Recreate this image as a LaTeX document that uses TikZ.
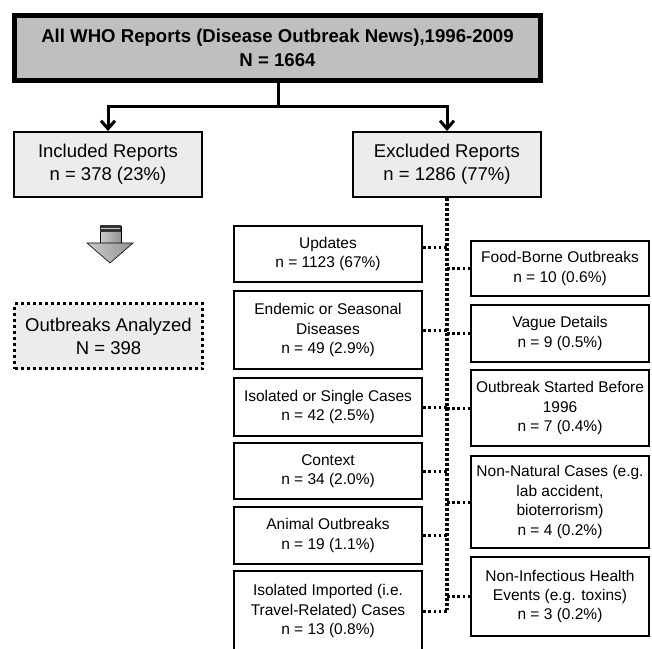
\documentclass[tikz,border=0pt]{standalone}
\usepackage{fontspec}
\setmainfont{Liberation Sans}
\usetikzlibrary{arrows.meta}
\definecolor{titlegray}{HTML}{BEBFC1}
\definecolor{boxgray}{HTML}{ECECEC}
\tikzset{
  topbox/.style={draw, line width=5pt, fill=titlegray, align=center, inner sep=0pt,
    minimum width=526, minimum height=65, font=\fontsize{18.6}{24}\selectfont\bfseries},
  mainbox/.style={draw, line width=2pt, fill=boxgray, align=center, inner sep=0pt,
    minimum width=188, minimum height=65, font=\fontsize{18.5}{23}\selectfont},
  resultbox/.style={mainbox, draw=none},
  leftbox/.style={draw, line width=2.2pt, fill=white, align=center, inner sep=0pt,
    minimum width=188, font=\fontsize{15.5}{19.4}\selectfont},
  rightbox/.style={leftbox, minimum width=178},
  tree/.style={line width=3pt},
  trunk/.style={line width=3.2pt, dash pattern=on 2.7pt off 2.3pt},
  twig/.style={line width=3pt, dash pattern=on 2.6pt off 2.6pt}
}
\begin{document}
\begin{tikzpicture}[x=1pt, y=-1pt]
  \useasboundingbox (0,0) rectangle (652,648);
  % Draw top boxes
  \node[topbox] (all) at (277.5,48) {All WHO Reports (Disease Outbreak News),1996-2009\\N = 1664};
  \node[mainbox] (incl) at (108,164.5) {Included Reports\\n = 378 (23\%)};
  \node[mainbox] (excl) at (447,164.5) {Excluded Reports\\n = 1286 (77\%)};
  % Split
  \coordinate (split) at (278,106);
  \draw[tree] (all.south -| split) -- (split);
  \draw[tree, -{Straight Barb[length=8pt,width=14pt]}] (split) -| (incl.north);
  \draw[tree, -{Straight Barb[length=8pt,width=14pt]}] (split) -| (excl.north);

  % Draw block arrow
  \shade[left color=gray!40, right color=gray!85, draw=black, line width=.6pt]
    (100,226) rectangle (121,243);
  \shade[left color=gray!40, right color=gray!85, draw=black, line width=.6pt]
    (87,243) -- (133,243) -- (110,263) -- cycle;
  \fill[black!80] (100,225) rectangle (121,232);
  \draw[gray!40, line width=.8pt] (101,228.5) -- (120,228.5);

  % Result
  \node[mainbox, dash pattern=on 3pt off 3pt, line width=3.6pt] (res) at (108.5,336)
    {Outbreaks Analyzed\\N = 398};

  % Draw excluded reasons (left)
  \node[leftbox, minimum height=56] (upd) at (328,254) {Updates\\n = 1123 (67\%)};
  \node[leftbox, minimum height=78] (end) at (328,330) {Endemic or Seasonal\\Diseases\\n = 49 (2.9\%)};
  \node[leftbox, minimum height=58] (iso) at (328,407) {Isolated or Single Cases\\n = 42 (2.5\%)};
  \node[leftbox, minimum height=56] (ctx) at (328,471) {Context\\n = 34 (2.0\%)};
  \node[leftbox, minimum height=57] (ani) at (328,535.5) {Animal Outbreaks\\n = 19 (1.1\%)};
  \node[leftbox, minimum height=80] (imp) at (328,611) {Isolated Imported (i.e.\\Travel-Related) Cases\\n = 13 (0.8\%)};
  % Draw excluded reasons (right)
  \node[rightbox, minimum height=55] (food) at (560,268.5) {Food-Borne Outbreaks\\n = 10 (0.6\%)};
  \node[rightbox, minimum height=57] (vag) at (560,333.5) {Vague Details\\n = 9 (0.5\%)};
  \node[rightbox, minimum height=76] (bef) at (560,408) {Outbreak Started Before\\1996\\n = 7 (0.4\%)};
  \node[rightbox, minimum height=92] (nat) at (560,502) {Non-Natural Cases (e.g.\\lab accident,\\bioterrorism)\\n = 4 (0.2\%)};
  \node[rightbox, minimum height=79] (inf) at (560,596.5) {Non-Infectious Health\\Events (e.g. toxins)\\n = 3 (0.2\%)};

  % Dotted links
  \coordinate (trunkend) at (447,610);
  \coordinate (updc) at ([yshift=7pt]upd.east);
  \draw[trunk] (excl.south) -- (trunkend);
  \draw[twig] (updc) -- (updc -| excl.south);
  \foreach \b in {end,iso,ctx,ani,imp}
    \draw[twig] (\b.east) -- (\b.east -| excl.south);
  \foreach \b in {food,vag,bef,nat,inf}
    \draw[twig] (\b.west -| excl.south) -- (\b.west);
\end{tikzpicture}
\end{document}
